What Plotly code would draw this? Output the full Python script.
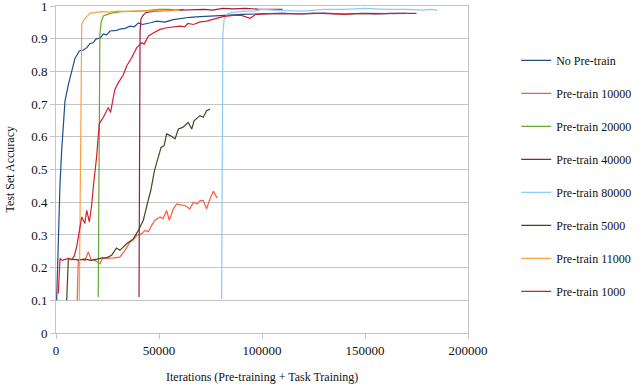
"""
Test set accuracy vs total iterations (pre-training + task training),
one line per pre-training budget.
"""

import plotly.graph_objects as go

# --- data ----------------------------------------------------------------

no_pretrain_x = [300, 1100, 1950, 2750, 3560, 4370, 6000, 7600, 9200, 11300,
                 13250, 15000, 16500, 18000, 19500, 21400, 23000, 24600, 26200,
                 29500, 31000, 33500, 36000, 38000, 40000, 42000, 44000, 46500,
                 48900, 52900, 56900, 61800, 65000, 70000, 76000, 82000, 90000,
                 100000, 110000, 120000, 130000, 140000, 150000, 160000, 170000]
no_pretrain_y = [0.10, 0.305, 0.457, 0.558, 0.629, 0.71, 0.76, 0.80, 0.84, 0.863,
                 0.866, 0.873, 0.886, 0.888, 0.900, 0.902, 0.915, 0.912, 0.924,
                 0.926, 0.930, 0.932, 0.939, 0.937, 0.949, 0.944, 0.946, 0.950,
                 0.954, 0.951, 0.959, 0.964, 0.966, 0.968, 0.969, 0.972, 0.975,
                 0.976, 0.978, 0.976, 0.979, 0.976, 0.978, 0.977, 0.978]

pretrain_10000_x = [10300, 10800, 12500, 14000, 15700, 17000, 19000, 21400, 22500,
                    25000, 28000, 31000, 33500, 35900, 37500, 39200, 41600, 43200,
                    44800, 46500, 48000, 50500, 52000, 53700, 55000, 57000, 58600,
                    60500, 62500, 65000, 66700, 68500, 70000, 71500, 73100, 74700,
                    76400, 78000, 78500]
pretrain_10000_y = [0.10, 0.222, 0.225, 0.222, 0.248, 0.225, 0.222, 0.212, 0.228,
                    0.228, 0.230, 0.232, 0.253, 0.278, 0.285, 0.299, 0.304, 0.314,
                    0.310, 0.330, 0.345, 0.355, 0.350, 0.375, 0.345, 0.380, 0.395,
                    0.392, 0.390, 0.380, 0.400, 0.395, 0.405, 0.405, 0.380, 0.410,
                    0.434, 0.415, 0.415]

pretrain_20000_x = [20500, 21300, 22000, 23000, 25000, 28000, 32000, 36000, 40000,
                    45000, 50000, 55000, 58000, 62000]
pretrain_20000_y = [0.11, 0.914, 0.954, 0.970, 0.975, 0.980, 0.983, 0.985, 0.985,
                    0.987, 0.990, 0.990, 0.988, 0.990]

pretrain_40000_x = [40300, 40800, 41200, 42000, 43500, 45000, 48000, 52000, 57000,
                    62000, 67000, 72000, 76000, 81000, 86000, 92000, 98000, 104000,
                    110000]
pretrain_40000_y = [0.11, 0.92, 0.959, 0.970, 0.980, 0.982, 0.985, 0.986, 0.987,
                    0.990, 0.990, 0.990, 0.988, 0.993, 0.992, 0.993, 0.991, 0.990,
                    0.990]

pretrain_80000_x = [80400, 81000, 81600, 83000, 85000, 88000, 92000, 96000, 100000,
                    106000, 112000, 120000, 130000, 140000, 150000, 160000, 170000,
                    178000, 182000, 185000]
pretrain_80000_y = [0.104, 0.914, 0.959, 0.975, 0.980, 0.982, 0.985, 0.985, 0.990,
                    0.988, 0.987, 0.985, 0.990, 0.990, 0.993, 0.990, 0.990, 0.988,
                    0.990, 0.987]

pretrain_5000_x = [5200, 6000, 8000, 11000, 14000, 17000, 20000, 22500, 24600, 27000,
                   29400, 31000, 34300, 37500, 40000, 42400, 44500, 46000, 47800,
                   49500, 51000, 52500, 53700, 55500, 57800, 59400, 61500, 64200,
                   65900, 67000, 69900, 71500, 73100, 74700]
pretrain_5000_y = [0.10, 0.228, 0.225, 0.224, 0.226, 0.222, 0.226, 0.230, 0.230,
                   0.238, 0.260, 0.253, 0.273, 0.288, 0.314, 0.345, 0.400, 0.436,
                   0.497, 0.538, 0.568, 0.573, 0.609, 0.604, 0.594, 0.624, 0.629,
                   0.644, 0.624, 0.649, 0.665, 0.660, 0.680, 0.685]

pretrain_11000_x = [11300, 12500, 13250, 14500, 16500, 19000, 22000, 26000, 30000,
                    35000, 40000, 45000, 50000, 55000, 60000]
pretrain_11000_y = [0.10, 0.944, 0.954, 0.965, 0.978, 0.980, 0.983, 0.982, 0.985,
                    0.984, 0.986, 0.985, 0.987, 0.986, 0.987]

pretrain_1000_x = [1100, 1950, 3000, 4500, 6000, 7500, 8800, 10000, 11300, 12500,
                   14000, 14900, 16200, 17300, 18100, 19700, 21000, 23000, 25400,
                   26500, 27800, 28600, 30300, 32700, 34300, 36700, 39200, 41600,
                   42800, 44800, 47200, 50500, 53700, 57000, 60200, 62500, 64000,
                   66700, 70000, 73100, 76200, 78500, 81000, 86000, 90000, 94200,
                   97000, 103000, 110000, 118000, 125000, 132000, 140000, 148000,
                   155000, 162000, 170000, 175000]
pretrain_1000_y = [0.12, 0.228, 0.222, 0.225, 0.228, 0.224, 0.235, 0.263, 0.305,
                   0.355, 0.335, 0.375, 0.340, 0.390, 0.446, 0.538, 0.640, 0.660,
                   0.690, 0.675, 0.720, 0.746, 0.766, 0.790, 0.817, 0.842, 0.873,
                   0.888, 0.884, 0.908, 0.918, 0.929, 0.934, 0.936, 0.939, 0.937,
                   0.947, 0.944, 0.952, 0.954, 0.959, 0.962, 0.968, 0.972, 0.972,
                   0.963, 0.975, 0.977, 0.978, 0.976, 0.979, 0.977, 0.975, 0.978,
                   0.976, 0.978, 0.977, 0.978]

y_ticks = [0, 0.1, 0.2, 0.3, 0.4, 0.5, 0.6, 0.7, 0.8, 0.9, 1]
y_tick_labels = ["0", "0.1", "0.2", "0.3", "0.4", "0.5", "0.6", "0.7", "0.8",
                 "0.9", "1"]
x_ticks = [0, 50000, 100000, 150000, 200000]
x_tick_labels = ["0", "50000", "100000", "150000", "200000"]

series = [
    ("No Pre-train", no_pretrain_x, no_pretrain_y, "#1f4e8c"),
    ("Pre-train 10000", pretrain_10000_x, pretrain_10000_y, "#ff5a3c"),
    ("Pre-train 20000", pretrain_20000_x, pretrain_20000_y, "#62a832"),
    ("Pre-train 40000", pretrain_40000_x, pretrain_40000_y, "#9c1c3e"),
    ("Pre-train 80000", pretrain_80000_x, pretrain_80000_y, "#8cccf4"),
    ("Pre-train 5000", pretrain_5000_x, pretrain_5000_y, "#3f4a22"),
    ("Pre-train 11000", pretrain_11000_x, pretrain_11000_y, "#ffa040"),
    ("Pre-train 1000", pretrain_1000_x, pretrain_1000_y, "#d41f2f"),
]

SERIF = "'Liberation Serif', 'Times New Roman', serif"
GRID = "#c4c4c4"

fig = go.Figure()
for name, xs, ys, color in series:
    fig.add_trace(
        go.Scatter(
            x=xs,
            y=ys,
            name=name,
            legendgroup=name,
            mode="lines",
            line=dict(color=color, width=1.2),
        )
    )

fig.update_layout(
    width=640,
    height=384,
    margin=dict(l=56, r=172, t=6, b=51, autoexpand=False),
    paper_bgcolor="white",
    plot_bgcolor="white",
    font=dict(family=SERIF, size=13, color="#111111"),
    showlegend=True,
    legend=dict(
        x=1.117,
        y=0.878,
        xanchor="left",
        yanchor="top",
        tracegroupgap=14,
        font=dict(family=SERIF, size=12, color="#111111"),
        bgcolor="rgba(0,0,0,0)",
    ),
    annotations=[
        dict(text="Iterations (Pre-training + Task Training)",
             x=0.5, y=-0.134, xref="paper", yref="paper",
             xanchor="center", yanchor="middle", showarrow=False,
             font=dict(family=SERIF, size=12, color="#111111")),
        dict(text="Test Set Accuracy",
             x=-0.1117, y=0.5, xref="paper", yref="paper", textangle=-90,
             xanchor="center", yanchor="middle", showarrow=False,
             font=dict(family=SERIF, size=12, color="#111111")),
    ],
)
fig.update_xaxes(
    range=[0, 200000],
    tickmode="array",
    tickvals=x_ticks,
    ticktext=x_tick_labels,
    showgrid=False,
    zeroline=False,
    showline=True,
    linecolor=GRID,
    mirror=True,
    ticks="outside",
    ticklen=5,
    tickcolor=GRID,
    ticklabeloverflow="allow",
    automargin=False,
)
fig.update_yaxes(
    range=[0, 1.0005],
    tickmode="array",
    tickvals=y_ticks,
    ticktext=y_tick_labels,
    showgrid=True,
    gridcolor=GRID,
    zeroline=False,
    showline=True,
    linecolor=GRID,
    mirror=True,
    ticks="outside",
    ticklen=5,
    tickcolor=GRID,
    ticklabeloverflow="allow",
    automargin=False,
)

# page body has a default 8px margin; drop it so the figure sits at 0,0
fig.write_html(
    "out.html",
    config={"displayModeBar": False},
    post_script="document.body.style.margin = '0';",
)
